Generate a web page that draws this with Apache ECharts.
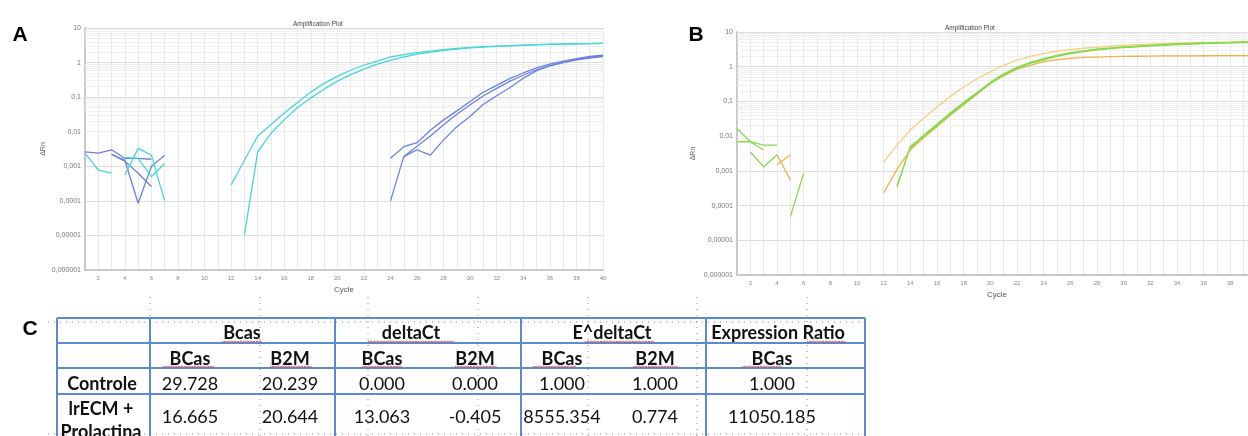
<!DOCTYPE html>
<html>
<head>
<meta charset="utf-8">
<script src="https://cdn.jsdelivr.net/npm/echarts@6/dist/echarts.min.js"></script>
<style>
    html, body { margin: 0; padding: 0; background: #fff; }
    #main { width: 1248px; height: 436px; }
</style>
</head>
<body>
<div id="main"></div>
<script>
    // ---- panel A : amplification curves (start cycle + deltaRn per cycle) ----
    var aCyan1Start = 12
    var aCyan1 = [0.00029, 0.0015, 0.0075, 0.016, 0.035, 0.07, 0.14, 0.25, 0.4, 0.6, 0.85, 1.1, 1.45, 1.7, 1.95,
        2.15, 2.35, 2.55, 2.75, 2.9, 3.0, 3.1, 3.2, 3.3, 3.4, 3.45, 3.5, 3.55, 3.6]
    var aCyan2Start = 13
    var aCyan2 = [0.00001, 0.0026, 0.009, 0.022, 0.05, 0.095, 0.17, 0.29, 0.45, 0.65, 0.9, 1.15, 1.45, 1.75,
        2.0, 2.25, 2.45, 2.65, 2.8, 2.95, 3.05, 3.15, 3.25, 3.35, 3.42, 3.48, 3.53, 3.58]
    var aBlue1Start = 24
    var aBlue1 = [0.0017, 0.0037, 0.0048, 0.011, 0.022, 0.04, 0.075, 0.14, 0.22, 0.35, 0.5, 0.7, 0.9, 1.1, 1.3, 1.5, 1.65]
    var aBlue2Start = 24
    var aBlue2 = [0.0001, 0.0019, 0.003, 0.0021, 0.0058, 0.014, 0.028, 0.062, 0.11, 0.19, 0.35, 0.58, 0.8, 1.0, 1.2, 1.35, 1.5]
    var aBlue3Start = 25
    var aBlue3 = [0.0019, 0.0038, 0.0075, 0.016, 0.032, 0.06, 0.11, 0.18, 0.29, 0.43, 0.62, 0.82, 1.02, 1.22, 1.42, 1.6]
    // early noise (baseline cycles)
    var aNoiseCyan1 = [0.0024, 0.00078, 0.00063]              // from cycle 1
    var aNoiseBlue1 = [0.0026, 0.0024, 0.003, 0.0017, 0.0017, 0.0016] // from cycle 1
    var aNoiseBlue2 = [0.0022, 0.0015, 0.000085, 0.001, 0.0021]   // from cycle 3
    var aNoiseBlue3 = [0.0022, 0.0014, 0.00063, 0.00026]      // from cycle 3
    var aNoiseCyan2 = [0.00056, 0.0033, 0.0021, 0.0001]       // from cycle 4
    var aNoiseCyan3 = [0.0018, 0.0017, 0.0005, 0.0012]        // from cycle 4

    // ---- panel B ----
    var bYellow1Start = 12
    var bYellow1 = [0.0018, 0.0055, 0.015, 0.033, 0.069, 0.14, 0.26, 0.45, 0.71, 1.1, 1.55, 2.0, 2.4, 2.8, 3.1,
        3.4, 3.6, 3.9, 4.1, 4.3, 4.45, 4.6, 4.75, 4.85, 4.95, 5.05, 5.1, 5.2, 5.25]
    var bYellow2Start = 12
    var bYellow2 = [0.00023, 0.0011, 0.004, 0.009, 0.019, 0.04, 0.08, 0.16, 0.33, 0.55, 0.85, 1.1, 1.4, 1.6, 1.75,
        1.85, 1.9, 1.95, 1.98, 2.0, 2.02, 2.04, 2.05, 2.06, 2.07, 2.08, 2.09, 2.1, 2.1]
    var bGreen1Start = 13
    var bGreen1 = [0.00035, 0.005, 0.01, 0.02, 0.042, 0.085, 0.17, 0.33, 0.58, 0.9, 1.25, 1.6, 2.0, 2.4, 2.75,
        3.1, 3.35, 3.6, 3.8, 4.0, 4.2, 4.4, 4.55, 4.7, 4.8, 4.9, 5.0, 5.05]
    var bGreen2Start = 14
    var bGreen2 = [0.0045, 0.0105, 0.022, 0.046, 0.092, 0.18, 0.35, 0.62, 0.95, 1.32, 1.7, 2.1, 2.5, 2.85,
        3.2, 3.45, 3.7, 3.9, 4.1, 4.3, 4.5, 4.65, 4.8, 4.9, 5.0, 5.1, 5.15]
    var bNoiseGreen1 = [0.0166, 0.0069, 0.0055, 0.0055]  // from cycle 1
    var bNoiseGreen2 = [0.0069, 0.0069, 0.004]           // from cycle 1
    var bNoiseGreen3 = [0.0035, 0.0013, 0.0029]          // from cycle 2
    var bNoiseYellow1 = [0.0029, 0.00055]                // from cycle 4
    var bNoiseYellow2 = [0.0015, 0.0029]                 // from cycle 4
    var bNoiseGreen4 = [0.000048, 0.00085]               // from cycle 5

    // ---- panel C : table ----
    var tableGroups = ['Bcas', 'deltaCt', 'E^deltaCt', 'Expression Ratio']
    var tableSubHeads = ['BCas', 'B2M', 'BCas', 'B2M', 'BCas', 'B2M', 'BCas']
    var tableRows = ['Controle', 'lrECM +\nProlactina']
    var ctBcas = [29.728, 16.665]
    var ctB2m = [20.239, 20.644]
    var dctBcas = [0.000, 13.063]
    var dctB2m = [0.000, -0.405]
    var eBcas = [1.000, 8555.354]
    var eB2m = [1.000, 0.774]
    var ratioBcas = [1.000, 11050.185]

    var cyan = '#47d6d8', blue = '#6b80e2', yel1 = '#f1d17f', yel2 = '#eab44a', green = '#8bd84e'

    function pts(start, vals) {
        return vals.map(function (v, i) { return [start + i, v] })
    }
    function curve(start, vals, color, gi, w) {
        return {
            type: 'line', xAxisIndex: gi, yAxisIndex: gi, data: pts(start, vals),
            symbol: 'none', silent: true, animation: false, z: 3,
            lineStyle: { color: color, width: w || 1.3 }
        }
    }
    // light minor lines of the log grid
    var minorVals = []
    for (var e = -6; e < 1; e++) {
        for (var k = 2; k < 10; k++) minorVals.push(k * Math.pow(10, e))
    }
    function minorGrid(gi) {
        return {
            type: 'line', xAxisIndex: gi, yAxisIndex: gi, data: [], silent: true, animation: false, z: 1,
            markLine: {
                silent: true, symbol: 'none', animation: false, z: 1, label: { show: false },
                lineStyle: { color: '#efefef', width: 1, type: 'solid' },
                data: minorVals.map(function (v) { return { yAxis: v } })
            }
        }
    }
    function logLabel(v) {
        var p = Math.round(Math.log10(v))
        if (p >= 0) return String(Math.pow(10, p))
        return '0,' + new Array(-p).join('0') + '1'
    }
    function xAxisOf(gi) {
        return {
            gridIndex: gi, type: 'value', min: 1, max: 40, interval: 1,
            name: 'Cycle', nameLocation: 'middle', nameGap: 13,
            nameTextStyle: { fontSize: 8, color: '#555', fontFamily: 'Liberation Sans' },
            axisLine: { lineStyle: { color: '#c9c9c9', width: 2 } },
            axisTick: { show: false },
            axisLabel: {
                fontSize: 6, color: '#888', margin: 5, fontFamily: 'Liberation Sans',
                formatter: function (v) { return v % 2 === 0 ? v : '' }
            },
            splitLine: { lineStyle: { color: '#e8e8e8' } }
        }
    }
    function yAxisOf(gi, gap) {
        return {
            gridIndex: gi, type: 'log', logBase: 10, min: 0.000001, max: 10,
            name: 'ΔRn', nameLocation: 'middle', nameGap: gap, nameRotate: 90,
            nameTextStyle: { fontSize: 7, color: '#666', fontFamily: 'Liberation Sans' },
            axisLine: { show: true, lineStyle: { color: '#c9c9c9', width: 2 } },
            axisTick: { show: false },
            axisLabel: { fontSize: 7, color: '#777', margin: 4, fontFamily: 'Liberation Sans', formatter: logLabel },
            splitLine: { lineStyle: { color: '#dcdcdc' } }
        }
    }

    var series = [
        minorGrid(0), minorGrid(1),
        curve(1, aNoiseCyan1, cyan, 0), curve(1, aNoiseBlue1, blue, 0), curve(3, aNoiseBlue2, blue, 0),
        curve(3, aNoiseBlue3, blue, 0), curve(4, aNoiseCyan2, cyan, 0), curve(4, aNoiseCyan3, cyan, 0),
        curve(aCyan1Start, aCyan1, cyan, 0), curve(aCyan2Start, aCyan2, cyan, 0),
        curve(aBlue1Start, aBlue1, blue, 0), curve(aBlue2Start, aBlue2, blue, 0), curve(aBlue3Start, aBlue3, blue, 0),
        curve(1, bNoiseGreen1, green, 1), curve(1, bNoiseGreen2, green, 1), curve(2, bNoiseGreen3, green, 1),
        curve(4, bNoiseYellow1, yel2, 1), curve(4, bNoiseYellow2, yel2, 1), curve(5, bNoiseGreen4, green, 1),
        curve(bYellow1Start, bYellow1, yel1, 1), curve(bYellow2Start, bYellow2, yel2, 1),
        curve(bGreen1Start, bGreen1, green, 1, 1.6), curve(bGreen2Start, bGreen2, green, 1, 1.6)
    ]

    // ---- table drawn with graphic elements ----
    var tblBlue = '#5b8ad4'
    var colX = [57, 150, 335, 521, 706, 865]
    var rowY = [318, 343, 368, 394]
    var groupCx = [242, 411, 612, 778]
    var subCx = [190, 290, 382, 475, 562, 655, 772]
    var gfx = []
    function txt(s, x, y, bold, size, color) {
        gfx.push({
            type: 'text', x: x, y: y, silent: true,
            style: {
                text: s, fill: color || '#111', align: 'center', verticalAlign: 'middle',
                font: (bold ? 'bold ' : '') + (size || 18) + 'px Lato'
            }
        })
    }
    function line(x1, y1, x2, y2, color, w, dash) {
        gfx.push({
            type: 'line', silent: true, shape: { x1: x1, y1: y1, x2: x2, y2: y2 },
            style: { stroke: color, lineWidth: w, lineDash: dash || null }
        })
    }
    function wavy(x1, x2, y) {
        var p = []
        for (var x = x1, i = 0; x <= x2; x += 1.6, i++) p.push([x, y + (i % 2 ? 1.3 : 0)])
        gfx.push({ type: 'polyline', silent: true, shape: { points: p }, style: { stroke: '#d8403a', lineWidth: 0.9, fill: null } })
    }
    // dotted word gridlines
    ;[150, 260, 368, 478, 588, 697, 807].forEach(function (x) { line(x, 297, x, 436, '#8a8a8a', 1, [1, 5]) })
    line(48, 322, 866, 322, '#8a8a8a', 1, [1, 5])
    line(48, 434, 866, 434, '#8a8a8a', 1, [1, 5])
    rowY.forEach(function (y) { line(colX[0], y, colX[colX.length - 1], y, tblBlue, 2) })
    colX.forEach(function (x) { line(x, rowY[0], x, 440, tblBlue, 2) })

    tableGroups.forEach(function (g, i) { txt(g, groupCx[i], 333, true) })
    tableSubHeads.forEach(function (g, i) { txt(g, subCx[i], 359, true) })
    var cols = [ctBcas, ctB2m, dctBcas, dctB2m, eBcas, eB2m, ratioBcas]
    var rowCy = [384, 417]
    tableRows.forEach(function (r, ri) {
        var parts = r.split('\n')
        if (parts.length === 1) txt(parts[0], 102, rowCy[ri], true)
        else { txt(parts[0], 101, 409, true); txt(parts[1], 101, 432, true) }
        cols.forEach(function (c, ci) { txt(c[ri].toFixed(3), subCx[ci], rowCy[ri], false) })
    })
    // spell-check squiggles
    wavy(222, 262, 341); wavy(368, 455, 341); wavy(585, 654, 341); wavy(807, 847, 341)
    ;[[163, 215], [270, 312], [362, 403], [455, 497], [533, 577], [633, 678], [742, 783]].forEach(function (s) {
        wavy(s[0], s[1], 366)
    })
    // panel letters
    gfx.push({ type: 'text', x: 20, y: 35, style: { text: 'A', font: 'bold 21px "Liberation Sans"', fill: '#000', align: 'center', verticalAlign: 'middle' } })
    gfx.push({ type: 'text', x: 696, y: 35, style: { text: 'B', font: 'bold 21px "Liberation Sans"', fill: '#000', align: 'center', verticalAlign: 'middle' } })
    gfx.push({ type: 'text', x: 30, y: 329, style: { text: 'C', font: 'bold 21px "Liberation Sans"', fill: '#000', align: 'center', verticalAlign: 'middle' } })

    var chart = echarts.init(document.getElementById('main'))
    chart.setOption({
        animation: false,
        backgroundColor: '#fff',
        title: [
            { text: 'Amplification Plot', left: 288, top: 16, textStyle: { fontSize: 6.5, fontWeight: 'normal', color: '#444', fontFamily: 'Liberation Sans' } },
            { text: 'Amplification Plot', left: 940, top: 20, textStyle: { fontSize: 6.5, fontWeight: 'normal', color: '#444', fontFamily: 'Liberation Sans' } }
        ],
        grid: [
            { left: 85, top: 28, width: 518, height: 242, outerBoundsMode: 'none' },
            { left: 737, top: 32, width: 520, height: 243, outerBoundsMode: 'none' }
        ],
        xAxis: [xAxisOf(0), xAxisOf(1)],
        yAxis: [yAxisOf(0, 38), yAxisOf(1, 40)],
        series: series,
        graphic: gfx
    })
</script>
</body>
</html>
